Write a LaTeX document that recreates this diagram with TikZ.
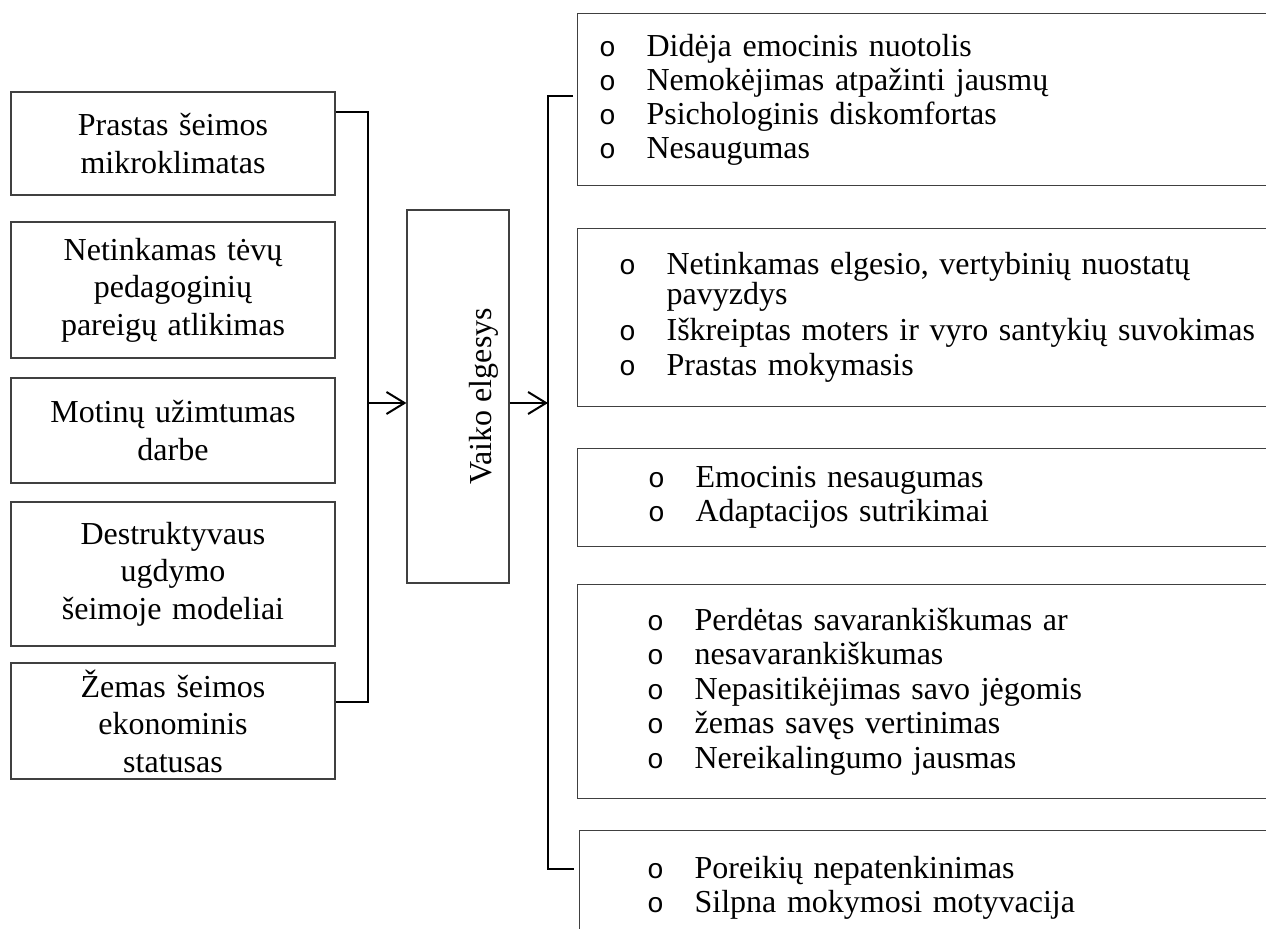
\documentclass[tikz,border=0pt]{standalone}
\usepackage{fontspec}
\setmainfont{Liberation Serif}
\newfontfamily\bulletfont{Liberation Mono}
\usetikzlibrary{arrows.meta}
\newcommand{\bulo}{\makebox[24.3pt][l]{\hspace*{0.6pt}\bulletfont\fontsize{14}{14}\selectfont o}}

\begin{document}
\begin{tikzpicture}[x=0.5pt, y=-0.5pt,
	>={Straight Barb[length=9pt,width=11pt]},
	cause/.style={draw=black!75, line width=0.6pt, rectangle, align=center, text width=150pt, inner xsep=6pt, minimum height=#1, font=\fontsize{16}{18.75}\selectfont},
	effect/.style={draw=black!75, line width=0.6pt, rectangle, anchor=north west, align=left, font=\fontsize{16}{17}\selectfont},
	link/.style={line width=1pt}]
	\clip (0,0) rectangle (1266,929);

	\node[cause=51.5pt] (C1) at (173,143.5) {Prastas šeimos\\mikroklimatas};
	\node[cause=68pt]   (C2) at (173,290)   {Netinkamas tėvų\\pedagoginių\\pareigų atlikimas};
	\node[cause=52.5pt] (C3) at (173,430.5) {Motinų užimtumas\\darbe};
	\node[cause=72pt]   (C4) at (173,574)   {Destruktyvaus\\ugdymo\\šeimoje modeliai};
	\node[cause=57pt]   (C5) at (173,721)   {Žemas šeimos\\ekonominis\\statusas};

	\node[draw=black!75, line width=0.6pt, rectangle, minimum width=51pt, minimum height=186.5pt, font=\fontsize{16}{18.75}\selectfont] (V) at (458,396.5) {\hspace*{26pt}\rotatebox{90}{Vaiko elgesys}};

	\node[effect, inner xsep=10.2pt, text width=341.1pt, minimum height=86pt] (E1) at (577,13) {\bulo Didėja emocinis nuotolis\\\bulo Nemokėjimas atpažinti jausmų\\\bulo Psichologinis diskomfortas\\\bulo Nesaugumas};
	\node[effect, inner xsep=20.2pt, text width=321.1pt, minimum height=89pt] (E2) at (577,228) {\bulo Netinkamas elgesio, vertybinių nuostatų\\[-2pt]\hspace*{24.3pt}pavyzdys\\[1pt]\bulo Iškreiptas moters ir vyro santykių suvokimas\\[0.5pt]\bulo Prastas mokymasis};
	\node[effect, inner xsep=34.7pt, text width=292.1pt, minimum height=49pt] (E3) at (577,448) {\bulo Emocinis nesaugumas\\\bulo Adaptacijos sutrikimai};
	\node[effect, inner xsep=34.2pt, text width=293.1pt, minimum height=107pt, font=\fontsize{16}{17.25}\selectfont] (E4) at (577,584) {\bulo Perdėtas savarankiškumas ar\\\bulo nesavarankiškumas\\\bulo Nepasitikėjimas savo jėgomis\\\bulo žemas savęs vertinimas\\\bulo Nereikalingumo jausmas};
	\node[effect, inner xsep=33.2pt, text width=294.1pt, minimum height=57pt] (E5) at (579,830) {\bulo Poreikių nepatenkinimas\\\bulo Silpna mokymosi motyvacija};

	\coordinate (Ltop) at (368,112);
	\coordinate (Lbot) at (368,702);
	\coordinate (Lmid) at (368,403);
	\coordinate (Rtop) at (548,96);
	\coordinate (Rbot) at (548,869);
	\coordinate (Rmid) at (548,403);

	\draw[link] (Ltop -| C1.east) -- (Ltop) -- (Lbot) -- (Lbot -| C5.east);
	\draw[link,->] (Lmid) -- (Lmid -| V.west);
	\draw[link,->] (Lmid -| V.east) -- (Rmid);
	\draw[link, shorten <=2pt, shorten >=2.5pt] (Rtop -| E1.west) -- (Rtop) -- (Rbot) -- (Rbot -| E5.west);

\end{tikzpicture}
\end{document}
